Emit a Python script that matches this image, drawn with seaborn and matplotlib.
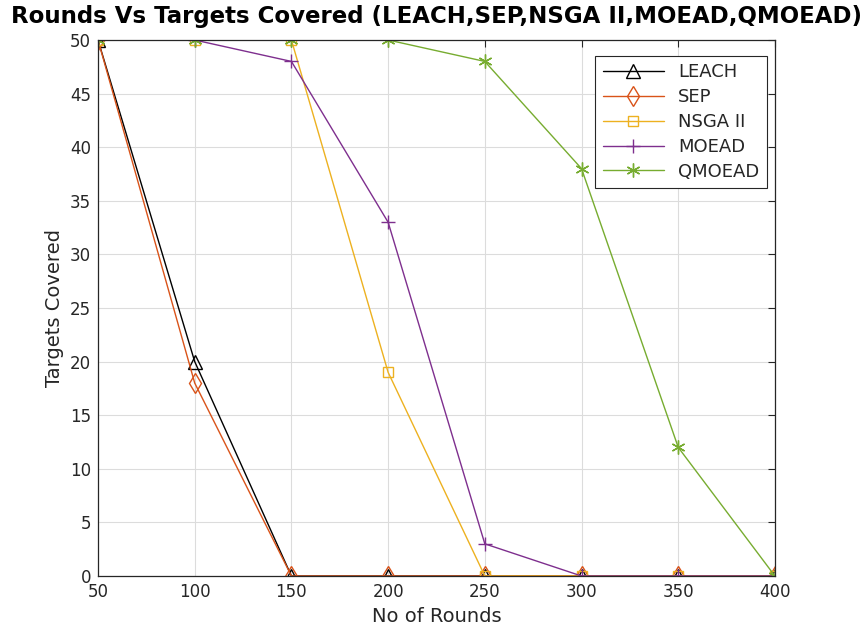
import matplotlib
matplotlib.use("Agg")
import matplotlib.pyplot as plt
import seaborn as sns

rounds = [50, 100, 150, 200, 250, 300, 350, 400]
leach = [50, 20, 0, 0, 0, 0, 0, 0]
sep = [50, 18, 0, 0, 0, 0, 0, 0]
nsga2 = [50, 50, 50, 19, 0, 0, 0, 0]
moead = [50, 50, 48, 33, 3, 0, 0, 0]
qmoead = [50, 50, 50, 50, 48, 38, 12, 0]

series = [
    ("LEACH", leach, "black", "^", 10),
    ("SEP", sep, "#D95319", "d", 10),
    ("NSGA II", nsga2, "#EDB120", "s", 7),
    ("MOEAD", moead, "#7E2F8E", "+", 10),
    ("QMOEAD", qmoead, "#77AC30", (6, 2, 0), 10),
]

sns.set_style("white")
plt.rcParams["font.family"] = ["DejaVu Sans"]

fig = plt.figure(figsize=(8.62, 6.42), dpi=100)
ax = fig.add_axes([0.1137, 0.1028, 0.7853, 0.8349])

for name, vals, color, marker, ms in series:
    sns.lineplot(x=rounds, y=vals, color=color, marker=marker, markersize=ms,
                 markerfacecolor="none", markeredgecolor=color, markeredgewidth=1,
                 linewidth=1, label=name, ax=ax)

ax.set_xlim(50, 400)
ax.set_ylim(0, 50)
ax.set_xticks(rounds)
ax.set_yticks(range(0, 51, 5))
ax.grid(True, color="#dcdcdc", linewidth=0.8)
ax.set_axisbelow(True)
for sp in ax.spines.values():
    sp.set_color("#262626")
    sp.set_linewidth(0.9)
ax.tick_params(direction="in", top=True, right=True, length=5, labelsize=12,
               colors="#262626", pad=5)

ax.set_xlabel("No of Rounds", fontsize=14, color="#262626")
ax.set_ylabel("Targets Covered", fontsize=14, color="#262626")
ax.set_title("Rounds Vs Targets Covered (LEACH,SEP,NSGA II,MOEAD,QMOEAD)",
             fontsize=16.5, fontweight="bold", pad=12, color="black")

leg = ax.legend(loc="upper right", bbox_to_anchor=(0.988, 0.97), borderaxespad=0,
                fancybox=False, framealpha=1, edgecolor="#262626", fontsize=13,
                handlelength=3.4, labelspacing=0.38, borderpad=0.4)
leg.get_frame().set_linewidth(0.8)
for t in leg.get_texts():
    t.set_color("#262626")

fig.savefig("out.png", dpi=100)
